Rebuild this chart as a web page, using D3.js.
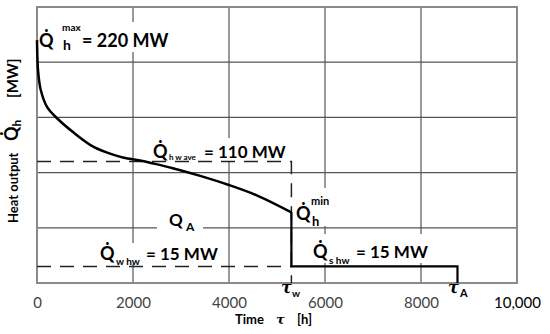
<!DOCTYPE html>
<html>
<head>
<meta charset="utf-8">
<script src="https://cdn.jsdelivr.net/npm/d3@7"></script>
<style>
  body { margin: 0; background: #fff; }
  svg { display: block; font-family: Lato, "Open Sans", sans-serif; }
</style>
</head>
<body>
<div id="chart"></div>
<script>
// heat load duration curve
const timeH = [0, 6, 21, 77, 215, 423, 770, 1190, 1600, 1810, 2145, 2400, 2830, 3400, 3980, 4600, 5300];
const heatMW = [220, 208, 193, 175, 159, 149, 136, 123, 116, 113.5, 111, 108.5, 104, 97, 89, 79, 64];

const qMax = 220;
const qAve = 110;
const qWhw = 15;
const qShw = 15;
const qMin = 64;
const tauW = 5300;
const tauA = 8760;

const xTicks = [0, 2000, 4000, 6000, 8000, 10000];
const xTickLabels = ['0', '2000', '4000', '6000', '8000', '10,000'];
const yGrid = [50, 100, 150, 200];

const width = 550;
const height = 334;
const margin = { top: 7, right: 33, bottom: 51, left: 37 };

const svg = d3.select('#chart')
    .append('svg')
    .attr('width', width)
    .attr('height', height);

const x = d3.scaleLinear()
    .domain([0, 10000])
    .range([margin.left, width - margin.right]);

const y = d3.scaleLinear()
    .domain([0, 250])
    .range([height - margin.bottom, margin.top]);

// grid
svg.append('g')
    .selectAll('line')
    .data(xTicks.slice(1, -1))
    .join('line')
    .attr('x1', d => x(d)).attr('x2', d => x(d))
    .attr('y1', y(250)).attr('y2', y(0))
    .attr('stroke', '#555').attr('stroke-width', 1.2);

svg.append('g')
    .selectAll('line')
    .data(yGrid)
    .join('line')
    .attr('x1', x(0)).attr('x2', x(10000))
    .attr('y1', d => y(d)).attr('y2', d => y(d))
    .attr('stroke', '#555').attr('stroke-width', 1.2);

svg.append('rect')
    .attr('x', x(0)).attr('y', y(250))
    .attr('width', x(10000) - x(0))
    .attr('height', y(0) - y(250))
    .attr('fill', 'none')
    .attr('stroke', '#8a8a8a')
    .attr('stroke-width', 2);

// white boxes behind the labels (they hide the grid)
const bgLayer = svg.append('g');
const lineLayer = svg.append('g');
const textLayer = svg.append('g');

function box(x0, y0, x1, y1) {
    bgLayer.append('rect')
        .attr('x', x0).attr('y', y0)
        .attr('width', x1 - x0).attr('height', y1 - y0)
        .attr('fill', '#fff');
}

box(39, 22, 168, 52);
box(150, 138, 282, 161);
box(157, 210, 203, 234);
box(97, 243, 221, 264);
box(292, 188, 338, 226);
box(310, 234, 434, 263);

// dashed guides
const line = d3.line().x(d => x(d[0])).y(d => y(d[1]));

lineLayer.append('path')
    .attr('d', line([[0, qAve], [tauW, qAve], [tauW, 0]]))
    .attr('fill', 'none')
    .attr('stroke', '#222')
    .attr('stroke-width', 1.5)
    .attr('stroke-dasharray', '14,9');

lineLayer.append('path')
    .attr('d', line([[0, qWhw], [tauW, qWhw]]))
    .attr('fill', 'none')
    .attr('stroke', '#222')
    .attr('stroke-width', 1.5)
    .attr('stroke-dasharray', '14,9');

// duration curve
const curve = d3.line()
    .x((d, i) => x(timeH[i]))
    .y(d => y(d))
    .curve(d3.curveCatmullRom.alpha(0.5));

lineLayer.append('path')
    .attr('d', curve(heatMW))
    .attr('fill', 'none')
    .attr('stroke', '#000')
    .attr('stroke-width', 2.5);

// summer hot water step
lineLayer.append('path')
    .attr('d', line([[tauW, qMin], [tauW, qShw], [tauA, qShw], [tauA, 0]]))
    .attr('fill', 'none')
    .attr('stroke', '#000')
    .attr('stroke-width', 2.2);

// x axis labels
const xAxis = svg.append('g')
    .attr('transform', `translate(0,${y(0)})`)
    .call(d3.axisBottom(x).tickValues(xTicks).tickSize(0).tickPadding(14)
        .tickFormat((d, i) => xTickLabels[i]));
xAxis.select('.domain').remove();
xAxis.selectAll('text')
    .style('font-family', 'Lato, sans-serif')
    .style('font-size', '15px')
    .attr('fill', (d, i) => i === xTicks.length - 1 ? '#000' : '#444');

// labels
function txt(px, py, s, size, opts = {}) {
    return textLayer.append('text')
        .attr('x', px).attr('y', py)
        .text(s)
        .style('font-size', size + 'px')
        .style('font-weight', opts.normal ? 'normal' : 'bold')
        .style('font-family', opts.serif ? '"DejaVu Serif", serif' : 'Lato, sans-serif')
        .style('font-style', opts.serif ? 'italic' : 'normal')
        .attr('fill', '#000');
}

const Qdot = 'Q\u0307';

txt(39, 47, Qdot, 18);
txt(62, 31, 'max', 10);
txt(63, 50, 'h', 14);
txt(82, 47, '= 220 MW', 18);

txt(153, 158, Qdot, 18);
txt(169, 160, 'h w ave', 8);
txt(204, 158, '= 110 MW', 17);

txt(169, 226, 'Q', 17);
txt(186, 231, 'A', 12);

txt(100, 260, Qdot, 18);
txt(116, 265, 'w hw', 10);
txt(146, 260, '= 15 MW', 17);

txt(296, 220, Qdot, 18);
txt(311, 205, 'min', 11);
txt(312, 226, 'h', 13);

txt(313, 258, Qdot, 18);
txt(329, 264, 's hw', 10);
txt(356, 258, '= 15 MW', 17);

txt(281, 293, '\u03c4', 16, { serif: true });
txt(292, 297, 'w', 10);
txt(448, 293, '\u03c4', 16, { serif: true });
txt(460, 297, 'A', 11);

txt(235, 324, 'Time', 13);
txt(276, 324, '\u03c4', 13, { serif: true });
txt(297, 324, '[h]', 13);

// y axis title
const yTitle = textLayer.append('text')
    .attr('transform', 'translate(18,223) rotate(-90)')
    .style('font-weight', 'bold')
    .style('font-family', 'Lato, sans-serif')
    .style('font-size', '13px');
yTitle.append('tspan').text('Heat output');
yTitle.append('tspan').attr('x', 82).style('font-size', '18px').text(Qdot);
yTitle.append('tspan').attr('dy', 3).style('font-size', '12px').text('h');
yTitle.append('tspan').attr('x', 125).attr('dy', -3).style('font-size', '15px').text('[MW]');
</script>
</body>
</html>
